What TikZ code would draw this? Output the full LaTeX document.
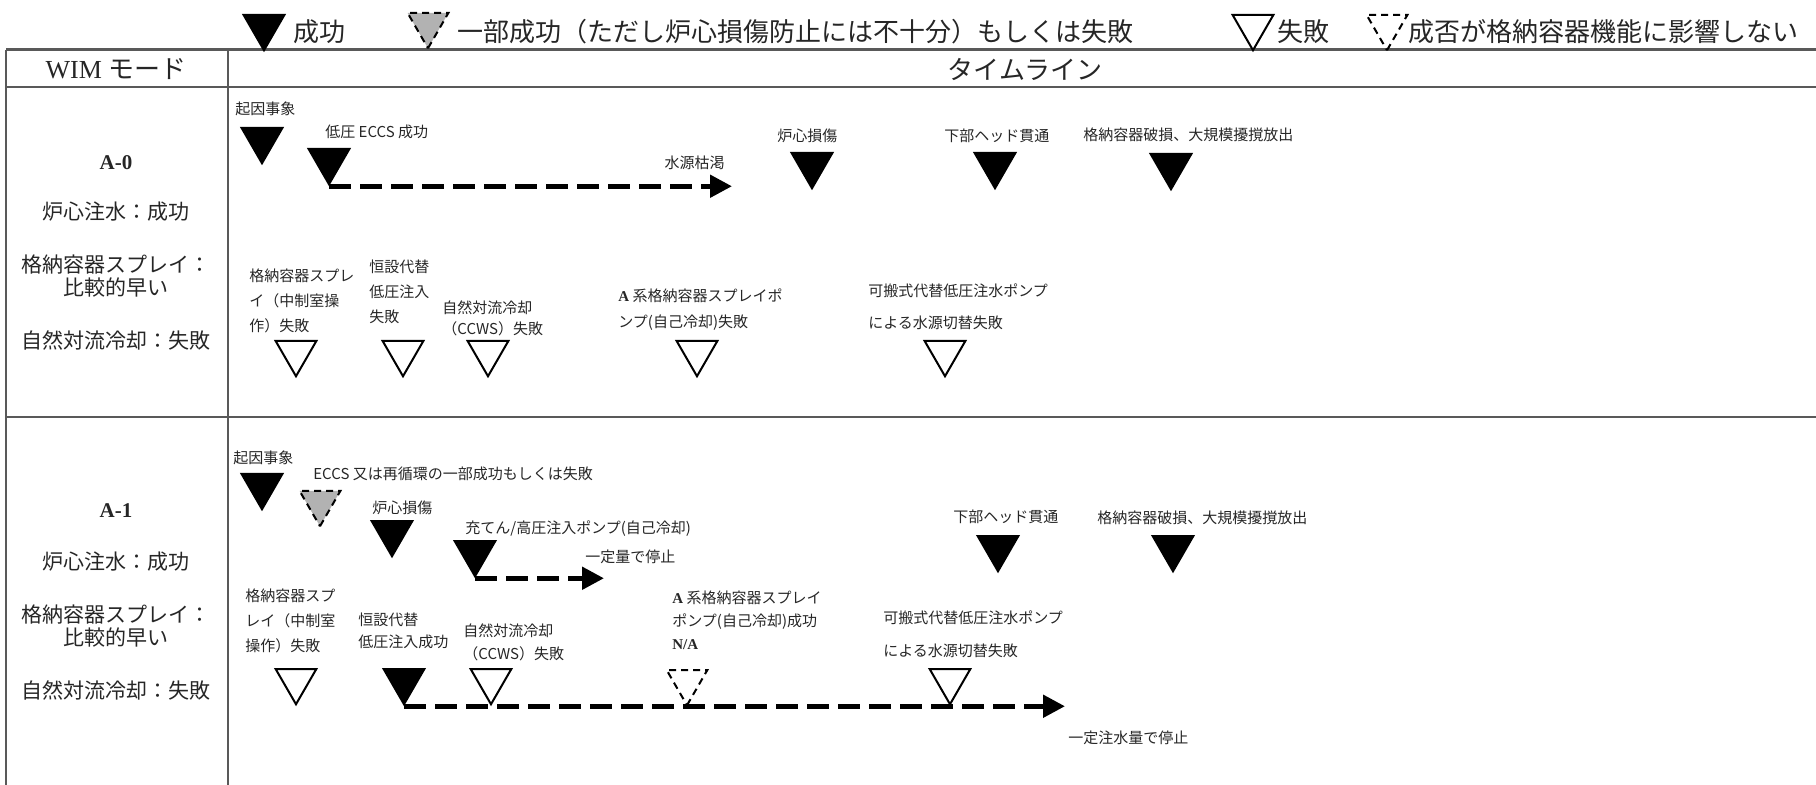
\documentclass[tikz,border=0pt]{standalone}
\usepackage{fontspec}
\setmainfont{Liberation Serif}
\newfontfamily\jp{Noto Sans CJK JP}
\usetikzlibrary{shapes.geometric,arrows.meta}

\begin{document}
\begin{tikzpicture}[x=0.5pt,y=-0.5pt,
	trimark/.style={regular polygon,regular polygon sides=3,shape border rotate=180,minimum size=23.5pt,inner sep=0pt,line width=1pt,anchor=north},
	okmark/.style={trimark,draw=black,fill=black},
	failmark/.style={trimark,draw=black,fill=white},
	partmark/.style={trimark,draw=black,fill=gray!60,dash pattern=on 3.5pt off 2.5pt},
	namark/.style={trimark,draw=black,fill=white,dash pattern=on 3.5pt off 2.5pt},
	lbl/.style={inner sep=0pt,anchor=north west,align=left,text=black!85,font=\jp\fontsize{7.5pt}{#1}\selectfont},
	lbl/.default=12.5pt,
	lgtxt/.style={inner sep=0pt,anchor=west,text=black!85,font=\jp\fontsize{13pt}{15pt}\selectfont},
	modetxt/.style={inner sep=0pt,align=center,text=black!85,font=\jp\fontsize{10.5pt}{11.5pt}\selectfont},
	flowarrow/.style={line width=2.5pt,dash pattern=on 11pt off 4.5pt,-{Triangle[length=11pt,width=11pt]}},
	tline/.style={black!65,line width=1pt}]
	\useasboundingbox (0,0) rectangle (1816,785);

	\draw[tline,line width=1.5pt] (6,50) -- (1816,50);
	\draw[tline] (6,87) -- (1816,87);
	\draw[tline] (6,417) -- (1816,417);
	\draw[tline] (6,50) -- (6,785);
	\draw[tline] (228,50) -- (228,785);

	\node[okmark] (lgok) at (264,14) {};
	\node[lgtxt] (lgoktxt) at (293,32) {成功};
	\node[partmark] (lgpart) at (428,12) {};
	\node[lgtxt] (lgparttxt) at (457,32) {一部成功（ただし炉心損傷防止には不十分）もしくは失敗};
	\node[failmark] (lgfail) at (1253,14) {};
	\node[lgtxt] (lgfailtxt) at (1277,32) {失敗};
	\node[namark] (lgna) at (1387,14) {};
	\node[lgtxt] (lgnatxt) at (1408,32) {成否が格納容器機能に影響しない};

	\node[lgtxt,anchor=center,font=\fontsize{13pt}{15pt}\selectfont] (hmode) at (116,69) {WIM {\jp モード}};
	\node[lgtxt,anchor=center] (htime) at (1025,69) {タイムライン};

	\node[modetxt] (a0name) at (116,163) {{\rmfamily\bfseries A-0}};
	\node[modetxt] (a0core) at (116,212) {炉心注水：成功};
	\node[modetxt] (a0spray) at (116,276) {格納容器スプレイ：\\比較的早い};
	\node[modetxt] (a0nat) at (116,340) {自然対流冷却：失敗};
	\node[modetxt] (a1name) at (116,511) {{\rmfamily\bfseries A-1}};
	\node[modetxt] (a1core) at (116,562) {炉心注水：成功};
	\node[modetxt] (a1spray) at (116,626) {格納容器スプレイ：\\比較的早い};
	\node[modetxt] (a1nat) at (116,690) {自然対流冷却：失敗};

	\node[lbl] (a0init) at (235,101) {起因事象};
	\node[okmark] (a0t1) at (262,127) {};
	\node[lbl] (a0eccs) at (325,125) {低圧 ECCS 成功};
	\node[okmark] (a0t2) at (329,148) {};
	\coordinate (a0end) at (732,0);
	\draw[flowarrow] (a0t2.south) -- (a0t2.south -| a0end);
	\node[lbl,anchor=north east] (a0dry) at (725,156) {水源枯渇};
	\node[lbl] (a0cd) at (777,128) {炉心損傷};
	\node[okmark] (a0t3) at (812,152) {};
	\node[lbl] (a0rpv) at (944,129) {下部ヘッド貫通};
	\node[okmark] (a0t4) at (995,152) {};
	\node[lbl] (a0cv) at (1083,127) {格納容器破損、大規模擾撹放出};
	\node[okmark] (a0t5) at (1171,153) {};

	\node[lbl] (a0cs) at (249,268) {格納容器スプレ\\イ（中制室操\\作）失敗};
	\node[lbl] (a0lpi) at (369,260) {恒設代替\\低圧注入\\失敗};
	\node[lbl=10.5pt] (a0ccws) at (442,300) {自然対流冷却\\（CCWS）失敗};
	\node[lbl=13pt] (a0pump) at (618,288) {{\rmfamily\bfseries A} 系格納容器スプレイポ\\ンプ(自己冷却)失敗};
	\node[lbl=16pt] (a0port) at (868,283) {可搬式代替低圧注水ポンプ\\による水源切替失敗};
	\foreach \x [count=\i] in {296,403,488,697,945}
		\node[failmark] (a0f\i) at (\x,340) {};

	\node[lbl] (a1init) at (233,450) {起因事象};
	\node[okmark] (a1t1) at (262,473) {};
	\node[lbl] (a1eccs) at (313,466) {ECCS 又は再循環の一部成功もしくは失敗};
	\node[partmark] (a1t2) at (320,490) {};
	\node[lbl] (a1cd) at (372,500) {炉心損傷};
	\node[okmark] (a1t3) at (392,520) {};
	\node[lbl] (a1hpi) at (465,520) {充てん/高圧注入ポンプ(自己冷却)};
	\node[okmark] (a1t4) at (475,540) {};
	\node[lbl] (a1stop) at (585,550) {一定量で停止};
	\coordinate (a1end) at (604,0);
	\draw[flowarrow] (a1t4.south) -- (a1t4.south -| a1end);
	\node[lbl] (a1rpv) at (953,510) {下部ヘッド貫通};
	\node[okmark] (a1t5) at (998,535) {};
	\node[lbl] (a1cv) at (1097,510) {格納容器破損、大規模擾撹放出};
	\node[okmark] (a1t6) at (1173,535) {};

	\node[lbl] (a1cs) at (245,588) {格納容器スプ\\レイ（中制室\\操作）失敗};
	\node[lbl=11pt] (a1lpi) at (358,613) {恒設代替\\低圧注入成功};
	\node[lbl=11.5pt] (a1ccws) at (463,623) {自然対流冷却\\（CCWS）失敗};
	\node[lbl=11.5pt] (a1pump) at (672,590) {{\rmfamily\bfseries A} 系格納容器スプレイ\\ポンプ(自己冷却)成功\\{\rmfamily\bfseries N/A}};
	\node[lbl=16.5pt] (a1port) at (883,610) {可搬式代替低圧注水ポンプ\\による水源切替失敗};
	\node[failmark] (a1f1) at (296,668) {};
	\node[okmark] (a1ok) at (404,668) {};
	\node[failmark] (a1f2) at (491,668) {};
	\node[namark] (a1na) at (687,669) {};
	\node[failmark] (a1f3) at (950,668) {};
	\coordinate (a1end2) at (1065,0);
	\draw[flowarrow] (a1ok.south) -- (a1ok.south -| a1end2);
	\node[lbl] (a1stop2) at (1068,730) {一定注水量で停止};
\end{tikzpicture}
\end{document}
